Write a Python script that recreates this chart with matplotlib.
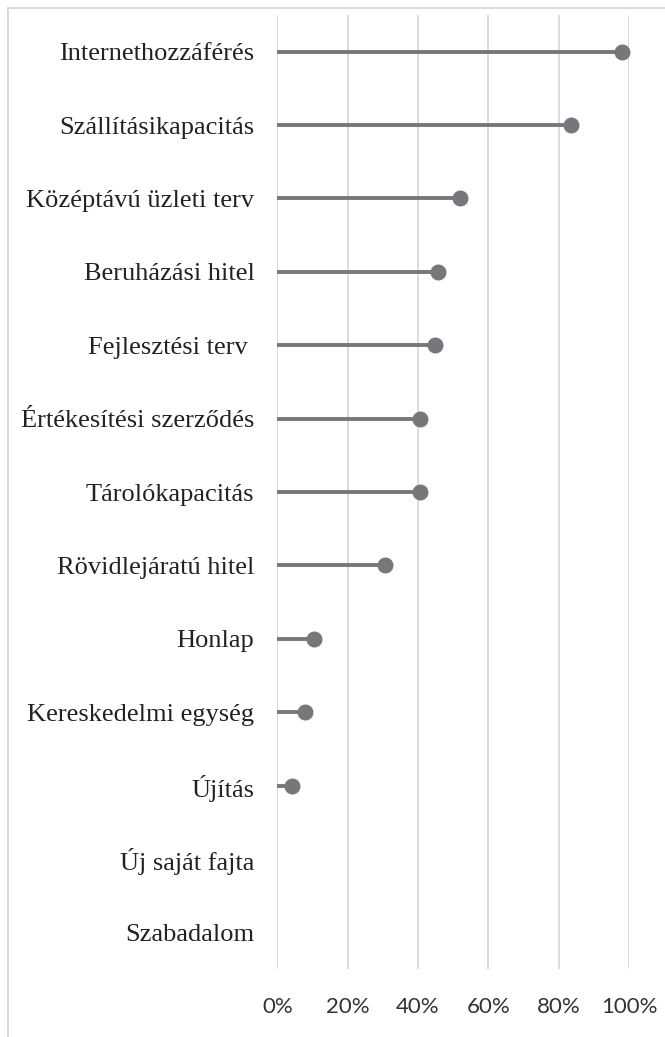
import numpy as np
import matplotlib
matplotlib.use("Agg")
import matplotlib.pyplot as plt
from matplotlib.lines import Line2D
from matplotlib.ticker import PercentFormatter

# categories from top to bottom
categories = ["Internethozzáférés", "Szállításikapacitás",
              "Középtávú üzleti terv", "Beruházási hitel", "Fejlesztési terv ",
              "Értékesítési szerződés", "Tárolókapacitás", "Rövidlejáratú hitel",
              "Honlap", "Kereskedelmi egység", "Újítás", "Új saját fajta", "Szabadalom"]
# shares (fraction); None = no value shown
values = [0.979, 0.835, 0.519, 0.458, 0.447, 0.405, 0.405, 0.306,
          0.105, 0.078, 0.041, None, None]
xticks = [0, 0.2, 0.4, 0.6, 0.8, 1.0]

grey = "#76777b"
grid_c = "#d9d9d9"

fig = plt.figure(figsize=(6.65, 10.37), dpi=100)
ax = fig.add_axes([277.3 / 665, 1 - 969 / 1037, (629 - 277.3) / 665, (969 - 15) / 1037])

y = np.arange(len(categories))
v = np.array([np.nan if x is None else x for x in values], dtype=float)

ax.hlines(y, 0, v, color=grey, lw=2.8, zorder=3)
ax.plot(v, y, "o", color=grey, ms=10.5, zorder=4, clip_on=False)

ax.set_xlim(0, 1)
ax.set_ylim(len(categories) - 0.5, -0.5)
ax.set_yticks(y)
ax.set_yticklabels(categories, fontfamily="Liberation Serif", fontsize=19, color="#222222")
ax.set_xticks(xticks)
ax.xaxis.set_major_formatter(PercentFormatter(1.0, decimals=0))
for lab in ax.get_xticklabels():
    lab.set_fontfamily("Lato")
    lab.set_fontsize(16)
    lab.set_color("#333333")
ax.tick_params(axis="y", length=0, pad=16.5)
ax.tick_params(axis="x", length=0, pad=20)

ax.grid(axis="x", color=grid_c, lw=1.3, zorder=0)
for s in ax.spines.values():
    s.set_visible(False)

# outer chart border (top and left edges visible)
fig.add_artist(Line2D([8 / 665, 1], [1 - 8 / 1037, 1 - 8 / 1037], color=grid_c, lw=1.3))
fig.add_artist(Line2D([8 / 665, 8 / 665], [0, 1 - 8 / 1037], color=grid_c, lw=1.3))

fig.savefig("out.png", dpi=100)
